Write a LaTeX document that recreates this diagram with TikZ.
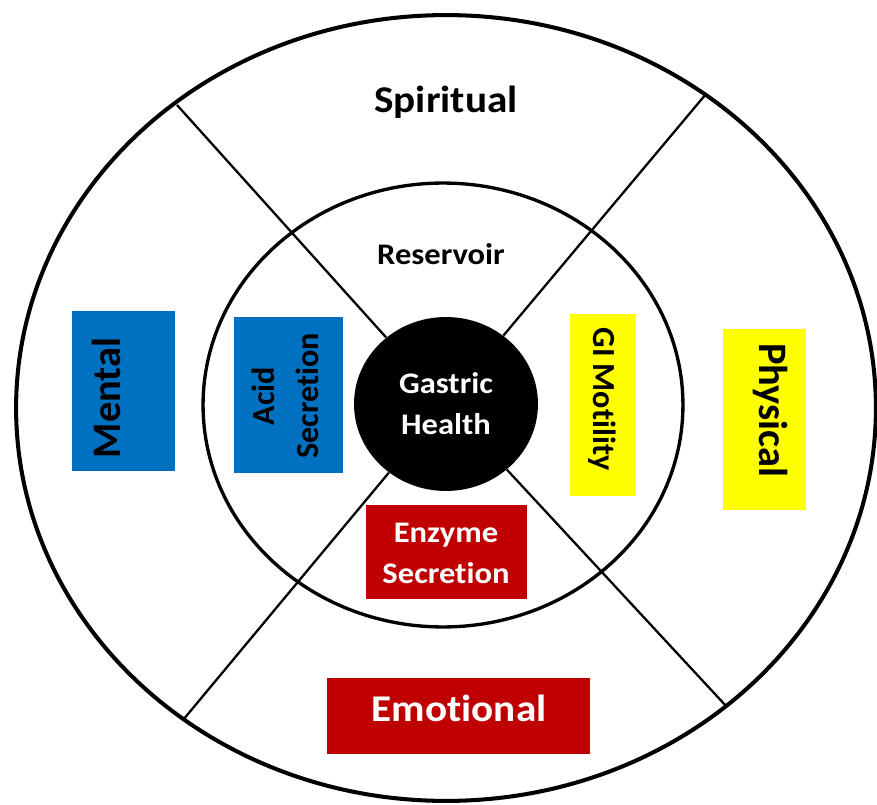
\documentclass[tikz,border=0pt]{standalone}
\usepackage{fontspec}
\setmainfont{Carlito}[Ligatures=NoCommon]
\usetikzlibrary{shapes.geometric}
\definecolor{boxblue}{HTML}{0070C0}
\definecolor{boxred}{HTML}{C00000}
\definecolor{boxyellow}{HTML}{FFFF00}
\tikzset{
  box/.style={rectangle, inner sep=0pt, outer sep=0pt},
  lbl/.style={inner sep=0pt, anchor=base, align=center, xscale=1.09, transform shape},
  big/.style={lbl, font=\fontsize{21.5}{23}\selectfont\bfseries},
  small/.style={lbl, font=\fontsize{17}{23}\selectfont\bfseries},
  uplbl/.style={inner sep=0pt, anchor=base, align=center, transform shape},
  upbig/.style={uplbl, font=\fontsize{23}{25}\selectfont\bfseries},
  upsmall/.style={uplbl, font=\fontsize{18.3}{25}\selectfont\bfseries},
  spoke/.style={line width=1.3pt},
}
\begin{document}
\begin{tikzpicture}[x=0.02cm, y=-0.02cm]
\useasboundingbox (0,0) rectangle (877,805);

% rings
\draw[line width=2.3pt] (446,408) ellipse [x radius=8.6cm, y radius=7.86cm];
\draw[line width=1.9pt] (443,405) ellipse [x radius=4.8cm, y radius=4.44cm];

% centre
\node[ellipse, fill=black, minimum width=3.68cm, minimum height=3.48cm, inner sep=0pt] (gh) at (446,404) {};
\coordinate (ul) at (177,105);
\coordinate (ur) at (706,94);
\coordinate (ll) at (183,720);
\coordinate (lr) at (727,707);
\draw[spoke] (gh) -- (ul);
\draw[spoke] (gh) -- (ur);
\draw[spoke] (gh) -- (ll);
\draw[spoke] (gh) -- (lr);

% boxes
\node[box, fill=boxblue, minimum width=2.06cm, minimum height=3.2cm] (mental) at (123.5,391) {};
\node[box, fill=boxblue, minimum width=2.18cm, minimum height=3.12cm] (acid) at (288.5,395) {};
\node[box, fill=boxyellow, minimum width=1.32cm, minimum height=3.64cm] (gim) at (603,405) {};
\node[box, fill=boxyellow, minimum width=1.66cm, minimum height=3.62cm] (phys) at (764.5,419.5) {};
\node[box, fill=boxred, minimum width=3.22cm, minimum height=1.88cm] (enz) at (446.5,552) {};
\node[box, fill=boxred, minimum width=5.26cm, minimum height=1.52cm] (emo) at (458.5,716) {};

% labels
\node[big] (spirt) at (446,112) {Spiritual};
\node[lbl, font=\fontsize{17}{23}\selectfont\bfseries] (resv) at (441,264) {Reservoir};
\node[small, text=white] (ghtxt) at (446,434) {Gastric\\Health};
\node[small, text=white] (enztxt) at (446,583) {Enzyme\\Secretion};
\node[big, text=white] (emotxt) at (459,721) {Emotional};
\node[upbig, rotate=90] (mentxt) at (120,398) {Mental};
\node[upsmall, rotate=90] (acidtxt) at (318,396) {Acid\\Secretion};
\node[upsmall, rotate=-90] (gimtxt) at (593,399) {GI Motility};
\node[upbig, rotate=-90] (phystxt) at (759,410) {Physical};
\end{tikzpicture}
\end{document}
